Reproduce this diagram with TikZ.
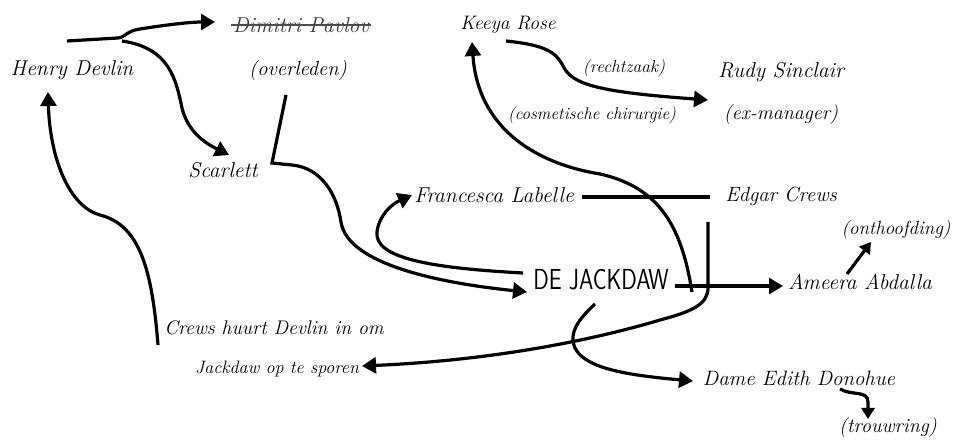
\documentclass[tikz,border=0pt]{standalone}
\usetikzlibrary{arrows.meta}
\begin{document}
\begin{tikzpicture}[x=1pt,y=-1pt,
  lbl/.style={font=\fontsize{21.5}{24}\selectfont\itshape, inner sep=0pt},
  note/.style={font=\fontsize{19}{22}\selectfont\itshape, inner sep=0pt},
  conn/.style={line width=3.2pt},
  arr/.style={conn, -{Triangle[length=14pt,width=16pt]}},
  sarr/.style={conn, -{Triangle[length=11pt,width=13pt]}}]
\useasboundingbox (0,0) rectangle (956,443);
% nodes
\node[lbl] (hd) at (72,70) {Henry Devlin};
\node[lbl, text=black!80] (dp) at (301,25) {Dimitri Pavlov};
\node[note, font=\fontsize{20.5}{23}\selectfont\itshape] (ov) at (298,70) {(overleden)};
\node[lbl] (sc) at (223,170) {Scarlett};
\node[lbl, font=\fontsize{19.5}{22}\selectfont\itshape] (kr) at (508,25) {Keeya Rose};
\node[note, font=\fontsize{17.5}{20}\selectfont\itshape] (rz) at (624,68) {(rechtzaak)};
\node[lbl] (rs) at (781,72) {Rudy Sinclair};
\node[note, font=\fontsize{17}{20}\selectfont\itshape] (cc) at (592,115) {(cosmetische chirurgie)};
\node[note, font=\fontsize{20}{23}\selectfont\itshape] (em) at (781,115) {(ex-manager)};
\node[lbl] (fl) at (494,195) {Francesca Labelle};
\node[lbl, font=\fontsize{20.5}{23}\selectfont\itshape] (ec) at (781,196) {Edgar Crews};
\node[note] (on) at (896,230) {(onthoofding)};
\node[font=\fontsize{29}{32}\selectfont\sffamily, inner sep=0pt] (dj) at (601,280) {\scalebox{0.79}[1]{DE JACKDAW}};
\node[lbl] (aa) at (860,282) {Ameera Abdalla};
\node[note, font=\fontsize{19.7}{23}\selectfont\itshape] (c1) at (274,328) {Crews huurt Devlin in om};
\node[note, font=\fontsize{18}{21}\selectfont\itshape] (c2) at (277,369) {Jackdaw op te sporen};
\node[lbl, font=\fontsize{20.8}{23}\selectfont\itshape] (de) at (799,378) {Dame Edith Donohue};
\node[note, font=\fontsize{20}{23}\selectfont\itshape] (tr) at (888,428) {(trouwring)};
% strike-through
\draw[line width=1.2pt, black!70] ([xshift=-2pt]dp.west) -- ([xshift=2pt]dp.east);
% anchor coordinates
\coordinate (hdA) at (67,41);
\coordinate (hdB) at (122,41);
\coordinate (dpIn) at (215,22);
\coordinate (scIn) at (229,155);
\coordinate (ovOut) at (286,95);
\coordinate (scOut) at (272,163);
\coordinate (djInL) at (527,292);
\coordinate (djOutL) at (523,273);
\coordinate (flIn) at (412,195);
\coordinate (flOut) at (582,197);
\coordinate (ecIn) at (710,197);
\coordinate (ecOut) at (708,222);
\coordinate (c2In) at (362,366);
\coordinate (djOutR) at (692,292);
\coordinate (krIn) at (472,42);
\coordinate (krOut) at (506,41);
\coordinate (rsIn) at (708,100);
\coordinate (djR) at (675,286);
\coordinate (aaIn) at (783,286);
\coordinate (aaOut) at (847,274);
\coordinate (onIn) at (871,242);
\coordinate (djB) at (595,304);
\coordinate (deIn) at (693,381);
\coordinate (deOut) at (840,389);
\coordinate (trIn) at (868,419);
\coordinate (c1Out) at (158,345);
\coordinate (hdIn) at (48,92);
% connectors
\draw[arr] (hdA) -- (118,38) .. controls (126,37) and (126,31) .. (140,29) .. controls (165,25) and (190,22) .. (dpIn);
\draw[arr] (hdB) .. controls (170,48) and (176,80) .. (182,108) .. controls (188,132) and (205,143) .. (scIn);
\draw[arr] (ovOut) -- (scOut) -- (292,165) .. controls (322,168) and (337,195) .. (341,222) .. controls (347,262) and (430,282) .. (djInL);
\draw[arr] (djOutL) .. controls (430,268) and (374,258) .. (377,232) .. controls (379,215) and (392,204) .. (flIn);
\draw[conn] (flOut) -- (ecIn);
\draw[arr] (ecOut) -- (708,288) .. controls (708,305) and (690,312) .. (660,320) .. controls (600,338) and (500,360) .. (c2In);
\draw[arr] (djOutR) .. controls (682,230) and (662,188) .. (600,174) .. controls (538,164) and (478,130) .. (krIn);
\draw[arr] (krOut) .. controls (545,45) and (556,52) .. (563,66) .. controls (572,85) and (600,92) .. (rsIn);
\draw[arr] (djR) -- (aaIn);
\draw[sarr] (aaOut) -- (onIn);
\draw[arr] (djB) .. controls (580,318) and (568,332) .. (575,348) .. controls (585,368) and (625,375) .. (deIn);
\draw[sarr] (deOut) .. controls (852,396) and (868,390) .. (868,402) -- (trIn);
\draw[arr] (c1Out) .. controls (152,270) and (140,225) .. (100,215) .. controls (70,207) and (50,160) .. (hdIn);
\end{tikzpicture}
\end{document}
